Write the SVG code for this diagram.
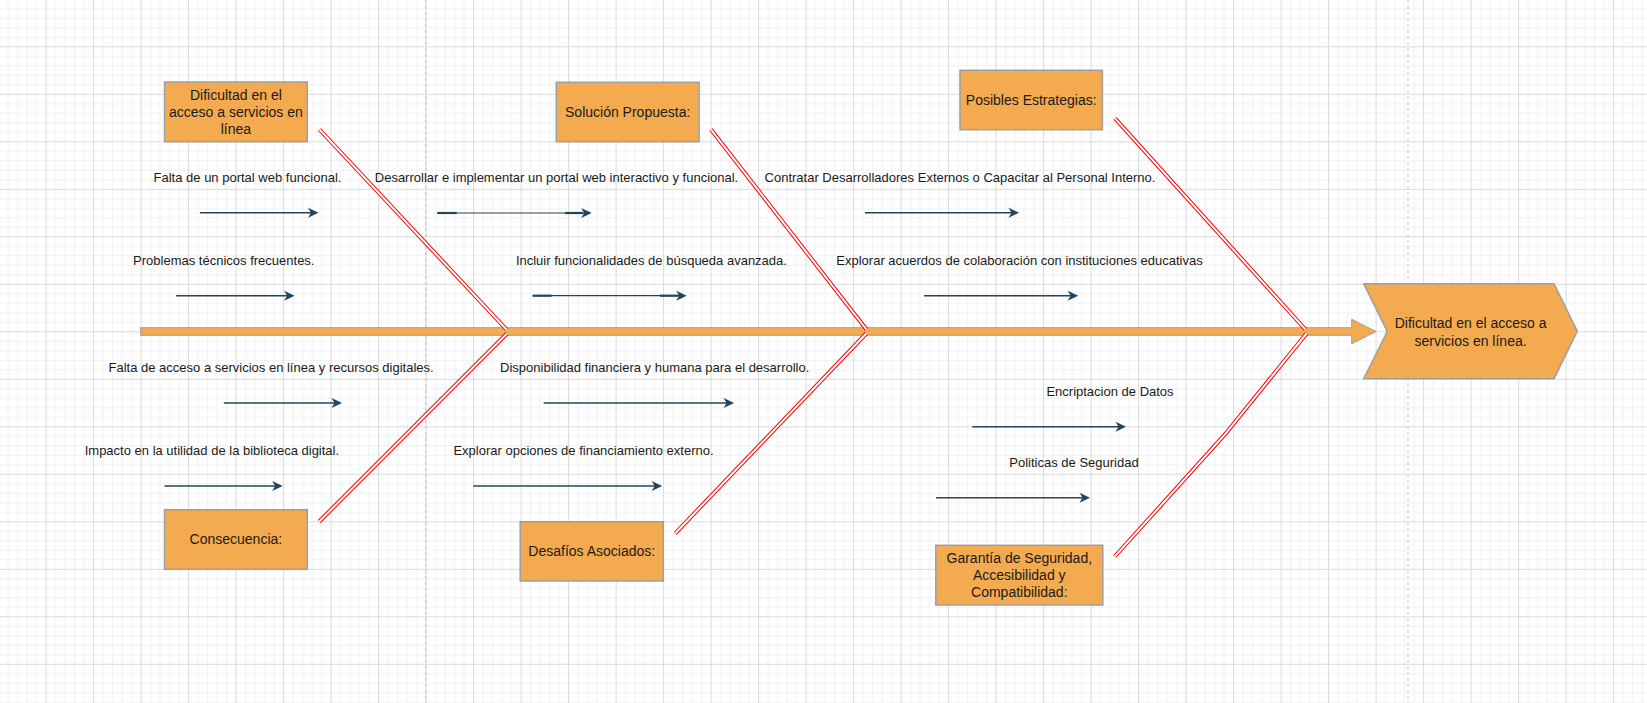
<svg xmlns="http://www.w3.org/2000/svg" width="1647" height="703" viewBox="0 0 1647 703">
<defs>
<pattern id="grid" x="-1.9" y="-1.2" width="47.5" height="47.5" patternUnits="userSpaceOnUse">
<rect width="47.5" height="47.5" fill="#ffffff"/>
<g fill="#f1f1f1">
<rect x="9.5" y="0" width="1" height="47.5"/><rect x="19" y="0" width="1" height="47.5"/><rect x="28.5" y="0" width="1" height="47.5"/><rect x="38" y="0" width="1" height="47.5"/>
<rect x="0" y="9.5" width="47.5" height="1"/><rect x="0" y="19" width="47.5" height="1"/><rect x="0" y="28.5" width="47.5" height="1"/><rect x="0" y="38" width="47.5" height="1"/>
</g>
<g fill="#dadada">
<rect x="0" y="0" width="1" height="47.5"/><rect x="0" y="0" width="47.5" height="1"/>
</g>
</pattern>
<marker id="ah" viewBox="-11 -6 12 12" refX="-3" refY="0" markerWidth="12" markerHeight="12" markerUnits="userSpaceOnUse" orient="auto">
<path d="M0,0 L-10.5,-5 L-7.5,0 L-10.5,5 Z" fill="#23445D"/>
</marker>
<style>
.box{fill:#F4AB50;stroke:#9E9E9E;stroke-width:1.5}
.bt{font-family:"Liberation Sans",Arial,sans-serif;font-size:14px;fill:#1a1a1a;text-anchor:middle}
.lb{font-family:"Liberation Sans",Arial,sans-serif;font-size:13px;fill:#1a1a1a;text-anchor:middle}
.ar{stroke:#23445D;stroke-width:1.5;fill:none;marker-end:url(#ah)}
.thin{stroke:#23445D;stroke-width:1.2;fill:none;marker-end:url(#ah)}
.thk{stroke:#23445D;stroke-width:2.2;fill:none}
.bone{fill:none;stroke:#FF0000;stroke-width:4;stroke-linejoin:miter}
.boneIn{fill:none;stroke:#ffffff;stroke-width:2;stroke-linejoin:miter}
.page{stroke:#c4c4c4;stroke-width:1;stroke-dasharray:3 3}
</style>
</defs>
<rect width="1647" height="703" fill="url(#grid)"/>
<line class="page" x1="425.7" y1="0" x2="425.7" y2="703"/>
<line class="page" x1="1408" y1="0" x2="1408" y2="703"/>

<g id="spine">
<path d="M140.6,327.7 L1351.7,327.7 L1351.7,319.3 L1376,331.5 L1351.7,343.7 L1351.7,335.3 L140.6,335.3 Z" fill="#F4AB50" stroke="#9E9E9E" stroke-width="1"/>
</g>

<g id="connectors">
<g id="bones">
<polyline class="bone" points="319.5,129.5 506.5,329.5"/><polyline class="boneIn" points="319.5,129.5 506.5,329.5"/>
<polyline class="bone" points="507,333.5 319.2,521.5"/><polyline class="boneIn" points="507,333.5 319.2,521.5"/>
<polyline class="bone" points="711,129.6 866.5,329.5"/><polyline class="boneIn" points="711,129.6 866.5,329.5"/>
<polyline class="bone" points="866.3,333.5 675.3,533.3"/><polyline class="boneIn" points="866.3,333.5 675.3,533.3"/>
<polyline class="bone" points="1115,118.3 1305.4,329.5"/><polyline class="boneIn" points="1115,118.3 1305.4,329.5"/>
<polyline class="bone" points="1306.5,333.5 1225.6,433.7 1114.8,556.5"/><polyline class="boneIn" points="1306.5,333.5 1225.6,433.7 1114.8,556.5"/>
</g>
<g id="arrows">
<line class="ar" x1="199.9" y1="212.7" x2="315.5" y2="212.7"/>
<line class="ar" x1="176.1" y1="295.7" x2="291.6" y2="295.7"/>
<line class="thin" x1="437.3" y1="213" x2="588.7" y2="213"/>
<line class="thk" x1="437.3" y1="213" x2="456.7" y2="213"/>
<line class="thk" x1="565" y1="213" x2="583.3" y2="213"/>
<line class="thin" x1="532.7" y1="295.7" x2="683.7" y2="295.7"/>
<line class="thk" x1="532.7" y1="295.7" x2="551.7" y2="295.7"/>
<line class="thk" x1="660" y1="295.7" x2="678.3" y2="295.7"/>
<line class="ar" x1="865" y1="212.7" x2="1016" y2="212.7"/>
<line class="ar" x1="923.9" y1="295.7" x2="1075.2" y2="295.7"/>
<line class="ar" x1="223.8" y1="403" x2="339" y2="403"/>
<line class="ar" x1="164.5" y1="486" x2="279.7" y2="486"/>
<line class="ar" x1="543.7" y1="403" x2="731.1" y2="403"/>
<line class="ar" x1="473.2" y1="486" x2="659.2" y2="486"/>
<line class="ar" x1="972.3" y1="426.7" x2="1123" y2="426.7"/>
<line class="ar" x1="936" y1="497.7" x2="1087" y2="497.7"/>
</g>
</g>

<g id="labels">
<text class="lb" x="247.5" y="181.8">Falta de un portal web funcional.</text>
<text class="lb" x="223.8" y="264.8">Problemas técnicos frecuentes.</text>
<text class="lb" x="556.5" y="181.8">Desarrollar e implementar un portal web interactivo y funcional.</text>
<text class="lb" x="651.4" y="264.8">Incluir funcionalidades de búsqueda avanzada.</text>
<text class="lb" x="960" y="181.8">Contratar Desarrolladores Externos o Capacitar al Personal Interno.</text>
<text class="lb" x="1019.5" y="264.8">Explorar acuerdos de colaboración con instituciones educativas</text>
<text class="lb" x="271.1" y="372.2">Falta de acceso a servicios en línea y recursos digitales.</text>
<text class="lb" x="211.9" y="455.2">Impacto en la utilidad de la biblioteca digital.</text>
<text class="lb" x="654.7" y="372.2">Disponibilidad financiera y humana para el desarrollo.</text>
<text class="lb" x="583.5" y="455.2">Explorar opciones de financiamiento externo.</text>
<text class="lb" x="1110" y="396.2">Encriptacion de Datos</text>
<text class="lb" x="1074" y="467.2">Politicas de Seguridad</text>
</g>

<g id="node-causa1">
<rect class="box" x="164.5" y="82" width="142.8" height="59.7"/>
<text class="bt" x="235.9" y="100.3">Dificultad en el</text>
<text class="bt" x="235.9" y="117.3">acceso a servicios en</text>
<text class="bt" x="235.9" y="134">línea</text>
</g>
<g id="node-solucion">
<rect class="box" x="556.3" y="82.3" width="142.8" height="59.4"/>
<text class="bt" x="627.7" y="117.3">Solución Propuesta:</text>
</g>
<g id="node-estrategias">
<rect class="box" x="960" y="70.3" width="142.4" height="59.4"/>
<text class="bt" x="1031.2" y="105">Posibles Estrategias:</text>
</g>
<g id="node-consecuencia">
<rect class="box" x="164.5" y="509.7" width="142.8" height="59.6"/>
<text class="bt" x="235.9" y="544.3">Consecuencia:</text>
</g>
<g id="node-desafios">
<rect class="box" x="520.2" y="521.7" width="143.1" height="59.3"/>
<text class="bt" x="591.8" y="556">Desafíos Asociados:</text>
</g>
<g id="node-garantia">
<rect class="box" x="935.8" y="545.3" width="167" height="59.7"/>
<text class="bt" x="1019.3" y="563.3">Garantía de Seguridad,</text>
<text class="bt" x="1019.3" y="580.3">Accesibilidad y</text>
<text class="bt" x="1019.3" y="597">Compatibilidad:</text>
</g>
<g id="node-problema">
<path class="box" d="M1363.7,283.7 L1554,283.7 L1577.3,331.3 L1554,378.7 L1363.7,378.7 L1387.3,331.3 Z"/>
<text class="bt" x="1470.6" y="328.3">Dificultad en el acceso a</text>
<text class="bt" x="1470.6" y="345.7">servicios en línea.</text>
</g>
</svg>
